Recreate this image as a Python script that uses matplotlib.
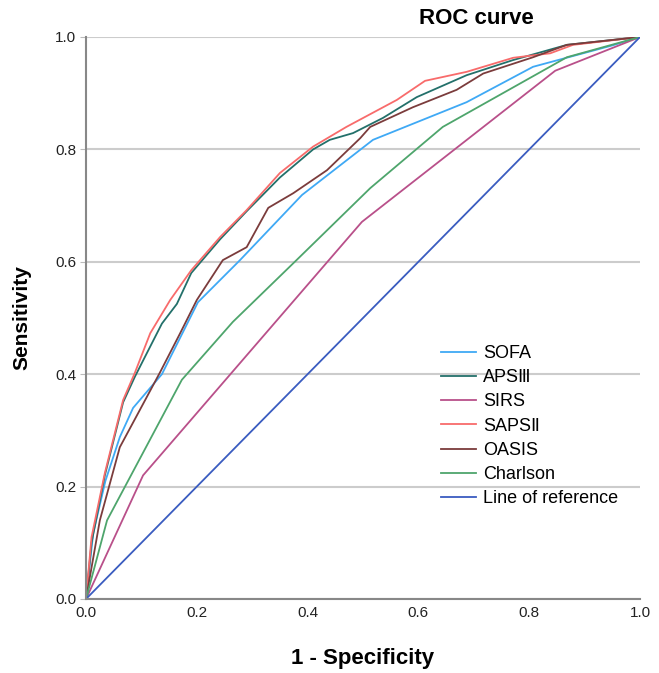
import matplotlib.pyplot as plt

plt.rcParams['font.family'] = ['Liberation Sans', 'DejaVu Sans']

# ROC points (1 - specificity, sensitivity)
sofa_x = [0, 0.013, 0.035, 0.061, 0.085, 0.137, 0.202, 0.278, 0.39, 0.518, 0.687, 0.807, 0.95, 1]
sofa_y = [0, 0.117, 0.21, 0.288, 0.34, 0.40, 0.528, 0.603, 0.719, 0.817, 0.884, 0.947, 0.985, 1]

aps_x = [0, 0.01, 0.034, 0.067, 0.088, 0.106, 0.137, 0.164, 0.19, 0.242, 0.29, 0.35, 0.41, 0.44,
         0.482, 0.536, 0.597, 0.687, 0.771, 0.868, 1]
aps_y = [0, 0.1, 0.22, 0.35, 0.395, 0.43, 0.49, 0.525, 0.58, 0.64, 0.69, 0.75, 0.80, 0.817,
         0.829, 0.856, 0.893, 0.932, 0.959, 0.986, 1]

sirs_x = [0, 0.103, 0.498, 0.847, 1]
sirs_y = [0, 0.22, 0.671, 0.94, 1]

saps_x = [0, 0.01, 0.034, 0.067, 0.088, 0.116, 0.152, 0.19, 0.242, 0.29, 0.35, 0.41, 0.47, 0.561,
          0.612, 0.687, 0.771, 0.838, 0.879, 1]
saps_y = [0, 0.11, 0.224, 0.354, 0.402, 0.473, 0.532, 0.585, 0.644, 0.692, 0.758, 0.805, 0.84,
          0.888, 0.922, 0.938, 0.963, 0.971, 0.986, 1]

oasis_x = [0, 0.025, 0.061, 0.097, 0.134, 0.17, 0.2, 0.247, 0.29, 0.329, 0.374, 0.435, 0.495, 0.513,
           0.59, 0.669, 0.717, 0.807, 0.868, 1]
oasis_y = [0, 0.14, 0.27, 0.336, 0.404, 0.473, 0.532, 0.603, 0.626, 0.696, 0.722, 0.763, 0.82, 0.84,
           0.875, 0.906, 0.935, 0.964, 0.986, 1]

charl_x = [0, 0.038, 0.173, 0.265, 0.38, 0.513, 0.644, 0.868, 1]
charl_y = [0, 0.14, 0.39, 0.493, 0.603, 0.731, 0.84, 0.964, 1]

ref_x = [0, 1]
ref_y = [0, 1]

fig = plt.figure(figsize=(6.59, 6.73), dpi=100)
ax = fig.add_axes([86 / 659, 74 / 673, 554 / 659, 562 / 673])

lw = 1.3
ax.plot(sofa_x, sofa_y, color="#3fa9f5", linewidth=lw, label="SOFA")
ax.plot(aps_x, aps_y, color="#23706a", linewidth=lw, label="APSⅢ")
ax.plot(sirs_x, sirs_y, color="#b9508a", linewidth=lw, label="SIRS")
ax.plot(saps_x, saps_y, color="#f86b6b", linewidth=lw, label="SAPSⅡ")
ax.plot(oasis_x, oasis_y, color="#7b3c3c", linewidth=lw, label="OASIS")
ax.plot(charl_x, charl_y, color="#4ea56c", linewidth=lw, label="Charlson")
ax.plot(ref_x, ref_y, color="#3a5cc0", linewidth=lw, label="Line of reference")

ax.set_xlim(0, 1)
ax.set_ylim(0, 1)
ax.set_xticks([0, 0.2, 0.4, 0.6, 0.8, 1.0])
ax.set_yticks([0, 0.2, 0.4, 0.6, 0.8, 1.0])
ax.set_xticklabels(["0.0", "0.2", "0.4", "0.6", "0.8", "1.0"])
ax.set_yticklabels(["0.0", "0.2", "0.4", "0.6", "0.8", "1.0"])
ax.tick_params(axis="x", length=0, pad=5, labelsize=11, labelcolor="#222222")
ax.tick_params(axis="y", length=4, color="#bbbbbb", pad=3, labelsize=11, labelcolor="#222222")
ax.yaxis.grid(True, color="#cccccc", linewidth=1.5)
ax.set_axisbelow(True)

for s in ["top", "right"]:
    ax.spines[s].set_visible(False)
for s in ["left", "bottom"]:
    ax.spines[s].set_color("#888888")
    ax.spines[s].set_linewidth(1.5)

ax.set_xlabel("1 - Specificity", fontsize=16, fontweight="bold", labelpad=20)
ax.set_ylabel("Sensitivity", fontsize=15, fontweight="bold", labelpad=17)
fig.text(476 / 659, 1 - 19 / 673, "ROC curve", ha="center", va="center", fontsize=16, fontweight="bold")

ax.legend(loc="upper left", bbox_to_anchor=(0.624, 0.468), frameon=False, fontsize=13,
          handlelength=1.95, handletextpad=0.4, labelspacing=0.4, borderpad=0)

fig.savefig("out.png", dpi=100)
